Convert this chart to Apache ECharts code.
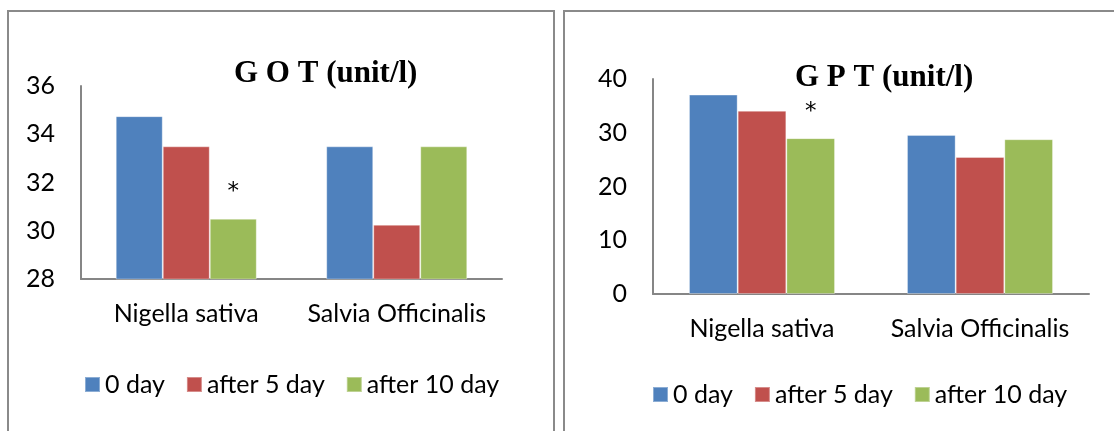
<!DOCTYPE html>
<html>
<head>
<meta charset="utf-8">
<script src="https://cdn.jsdelivr.net/npm/echarts@6/dist/echarts.min.js"></script>
<style>
html,body{margin:0;padding:0;background:#fff;}
#c{width:1114px;height:431px;}
</style>
</head>
<body>
<div id="c"></div>
<script>
const categories = ['Nigella sativa', 'Salvia Officinalis'];
const seriesNames = ['0 day', 'after 5 day', 'after 10 day'];
const gotDay0 = [34.75, 33.5];
const gotDay5 = [33.5, 30.25];
const gotDay10 = [30.5, 33.5];
const gptDay0 = [37.1, 29.6];
const gptDay5 = [34.1, 25.5];
const gptDay10 = [29.0, 28.8];
// significance markers (*) per series, per category
const gotStar = [[false,false],[false,false],[true,false]];
const gptStar = [[false,false],[false,false],[true,false]];
const gotTicks = {min: 28, max: 36, interval: 2};
const gptTicks = {min: 0, max: 40, interval: 10};
const titles = ['G O T (unit/l)', 'G P T (unit/l)'];

const colors = ['#4F81BD', '#C0504D', '#9BBB59'];
const SANS = 'Lato';
const FS = 25;

function mkData(vals, stars) {
  return vals.map((v, i) => stars[i] ? {value: v, label: {show: true}} : v);
}
function mkSeries(gi, datasets, stars) {
  return datasets.map((vals, s) => ({
    name: seriesNames[s],
    type: 'bar',
    xAxisIndex: gi, yAxisIndex: gi,
    barGap: '0%', barCategoryGap: '33%',
    itemStyle: {color: colors[s], borderColor: 'rgba(255,255,255,0.35)', borderWidth: 1},
    label: {show: false, position: 'top', distance: 15, formatter: '*', fontFamily: 'DejaVu Sans', fontSize: 23, color: '#000'},
    emphasis: {disabled: true},
    data: mkData(vals, stars[s])
  }));
}

const axisLine = {show: true, lineStyle: {color: '#868686', width: 2}};
const chart = echarts.init(document.getElementById('c'));
chart.setOption({
  animation: false,
  color: colors,
  graphic: [
    {type: 'rect', shape: {x: 8, y: 11, width: 546, height: 440}, style: {fill: 'none', stroke: '#8a8a8a', lineWidth: 2}},
    {type: 'rect', shape: {x: 564, y: 11, width: 620, height: 440}, style: {fill: 'none', stroke: '#8a8a8a', lineWidth: 2}}
  ],
  title: [
    {text: titles[0], left: 229, top: 53, textStyle: {fontFamily: 'Liberation Serif', fontWeight: 'bold', fontSize: 31, color: '#000'}},
    {text: titles[1], left: 790, top: 57, textStyle: {fontFamily: 'Liberation Serif', fontWeight: 'bold', fontSize: 31, color: '#000'}}
  ],
  legend: [
    {data: seriesNames, left: 84, top: 372, padding: 0, icon: 'rect', itemWidth: 15, itemHeight: 15, itemGap: 21,
     textStyle: {fontFamily: SANS, fontSize: FS, color: '#000'}, selectedMode: false},
    {data: seriesNames, left: 652, top: 382, padding: 0, icon: 'rect', itemWidth: 15, itemHeight: 15, itemGap: 21,
     textStyle: {fontFamily: SANS, fontSize: FS, color: '#000'}, selectedMode: false}
  ],
  grid: [
    {left: 81, top: 86, width: 421, height: 193},
    {left: 653, top: 79, width: 436, height: 215}
  ],
  xAxis: [0, 1].map(i => ({
    type: 'category', gridIndex: i, data: categories,
    axisLine: axisLine, axisTick: {show: false},
    axisLabel: {interval: 0, fontFamily: SANS, fontSize: FS, color: '#000', margin: 22}
  })),
  yAxis: [gotTicks, gptTicks].map((t, i) => ({
    type: 'value', gridIndex: i, min: t.min, max: t.max, interval: t.interval,
    axisLine: axisLine, axisTick: {show: false}, splitLine: {show: false},
    axisLabel: {fontFamily: SANS, fontSize: FS, color: '#000', margin: 26}
  })),
  series: [
    ...mkSeries(0, [gotDay0, gotDay5, gotDay10], gotStar),
    ...mkSeries(1, [gptDay0, gptDay5, gptDay10], gptStar)
  ]
});
</script>
</body>
</html>
